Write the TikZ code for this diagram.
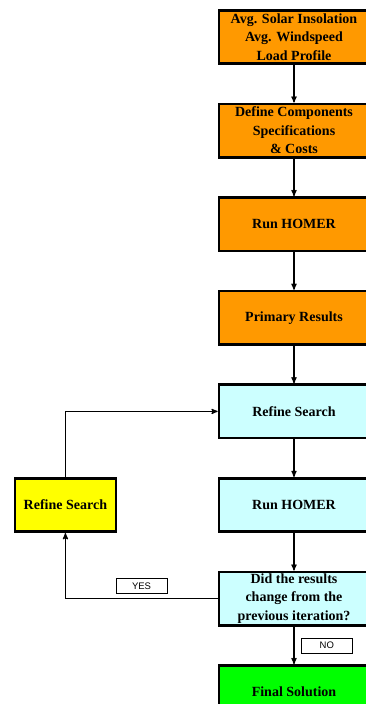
\documentclass[tikz,border=0pt]{standalone}
\usepackage{fontspec}
\setmainfont{Liberation Serif}
\newfontfamily\labelfont{Liberation Sans}
\usepackage{tikz}
\usetikzlibrary{positioning, arrows}
\definecolor{inputorange}{HTML}{FF9900}
\definecolor{loopcyan}{HTML}{CCFFFF}
\definecolor{refineyellow}{HTML}{FFFF00}
\definecolor{finalgreen}{HTML}{00FF00}
\tikzset{
>=stealth', % small filled arrow heads
node distance=37.5pt, % gap between the boxes of the main column
every node/.style={font=\bfseries\fontsize{14}{18.5}\selectfont}, % bold serif text
process/.style={draw, line width=2.6pt, minimum width=150pt, minimum height=53.5pt, align=center, inner sep=1pt}, % the big boxes
flow/.style={->, line width=1.2pt}, % connectors between the boxes
answer/.style={draw, line width=0.6pt, fill=white, minimum width=51pt, minimum height=15pt, inner sep=0pt, font=\labelfont\fontsize{9.5}{10}\selectfont}, % YES / NO tags
}

\begin{document}
\begin{tikzpicture}
                \clip (0,0) rectangle (366pt,-704pt);
                \node[process, fill=inputorange] (inputs) at (294pt,-37pt) {Avg. Solar Insolation\\Avg. Windspeed\\Load Profile};
                \node[process, fill=inputorange, below=of inputs] (specs) {Define Components\\Specifications\\\& Costs};
                \node[process, fill=inputorange, below=of specs] (homer1) {Run HOMER};
                \node[process, fill=inputorange, below=of homer1] (primary) {Primary Results};
                \node[process, fill=loopcyan, below=of primary] (search) {Refine Search};
                \node[process, fill=loopcyan, below=of search] (homer2) {Run HOMER};
                \node[process, fill=loopcyan, below=of homer2] (changed) {Did the results\\change from the\\previous iteration?};
                \node[process, fill=finalgreen, below=of changed] (final) {Final Solution};
                \node[process, fill=refineyellow, minimum width=101pt, left=100.5pt of homer2] (refine) {Refine Search};
                \draw[flow]
                    (inputs) edge (specs)
                    (specs) edge (homer1)
                    (homer1) edge (primary)
                    (primary) edge (search)
                    (search) edge (homer2)
                    (homer2) edge (changed)
                    (changed) edge node[answer, right=7pt] {NO} (final)
                    ;
                \draw[flow] (refine) |- (search);
                \draw[flow] (changed) -| node[answer, pos=0.25, above=5pt] {YES} (refine);
                \end{tikzpicture}
\end{document}
